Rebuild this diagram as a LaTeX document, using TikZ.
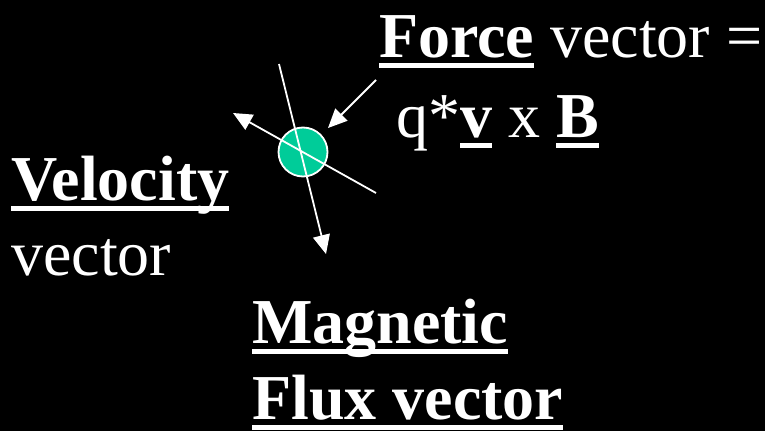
\documentclass[tikz,border=0pt]{standalone}
\usepackage{fontspec}
\setmainfont{Liberation Serif}
\usepackage{xcolor}
\definecolor{chargegreen}{RGB}{0,204,153}
\usetikzlibrary{arrows.meta}
% underline at a fixed depth, crossing descenders
\newcommand\ulword[1]{\setbox0=\hbox{#1}\rlap{\rule[-11pt]{\wd0}{5pt}}\box0\relax}

\begin{document}
\begin{tikzpicture}[x=1pt,y=-1pt,
  txt/.style={anchor=base west,inner sep=0pt,text=white,font=\fontsize{64}{76}\selectfont},
  particle/.style={draw=white,line width=1.8pt,circle,fill=chargegreen,minimum size=49pt,inner sep=0pt},
  vec/.style={draw=white,line width=1.8pt,-{Triangle[length=19pt,width=17pt]}}]
  \fill[black] (0,0) rectangle (765,431);
  \useasboundingbox (0,0) rectangle (765,431);
  % Charge and its vectors
  \node[particle] (q) at (303,152) {};
  \coordinate (btail) at (279,64);
  \coordinate (bhead) at (326,254);
  \coordinate (vtail) at (376,193);
  \coordinate (vhead) at (233,113);
  \coordinate (ftail) at (376,80);
  \coordinate (fhead) at (328,128);
  \draw[vec] (btail) -- (bhead);
  \draw[vec] (vtail) -- (vhead);
  \draw[vec] (ftail) -- (fhead);
  % Labels
  \node[txt] (force) at (379,57) {\ulword{\bfseries Force} vector =};
  \node[txt] (eqn) at (396,137) {q*\ulword{\bfseries v} x \ulword{\bfseries B}};
  \node[txt] (vel) at (11,200) {\ulword{\bfseries Velocity}};
  \node[txt] (velvec) at (11,275) {vector};
  \node[txt] (mag) at (252,343) {\ulword{\bfseries Magnetic}};
  \node[txt] (flux) at (252,419) {\ulword{\bfseries Flux vector}};
\end{tikzpicture}
\end{document}
